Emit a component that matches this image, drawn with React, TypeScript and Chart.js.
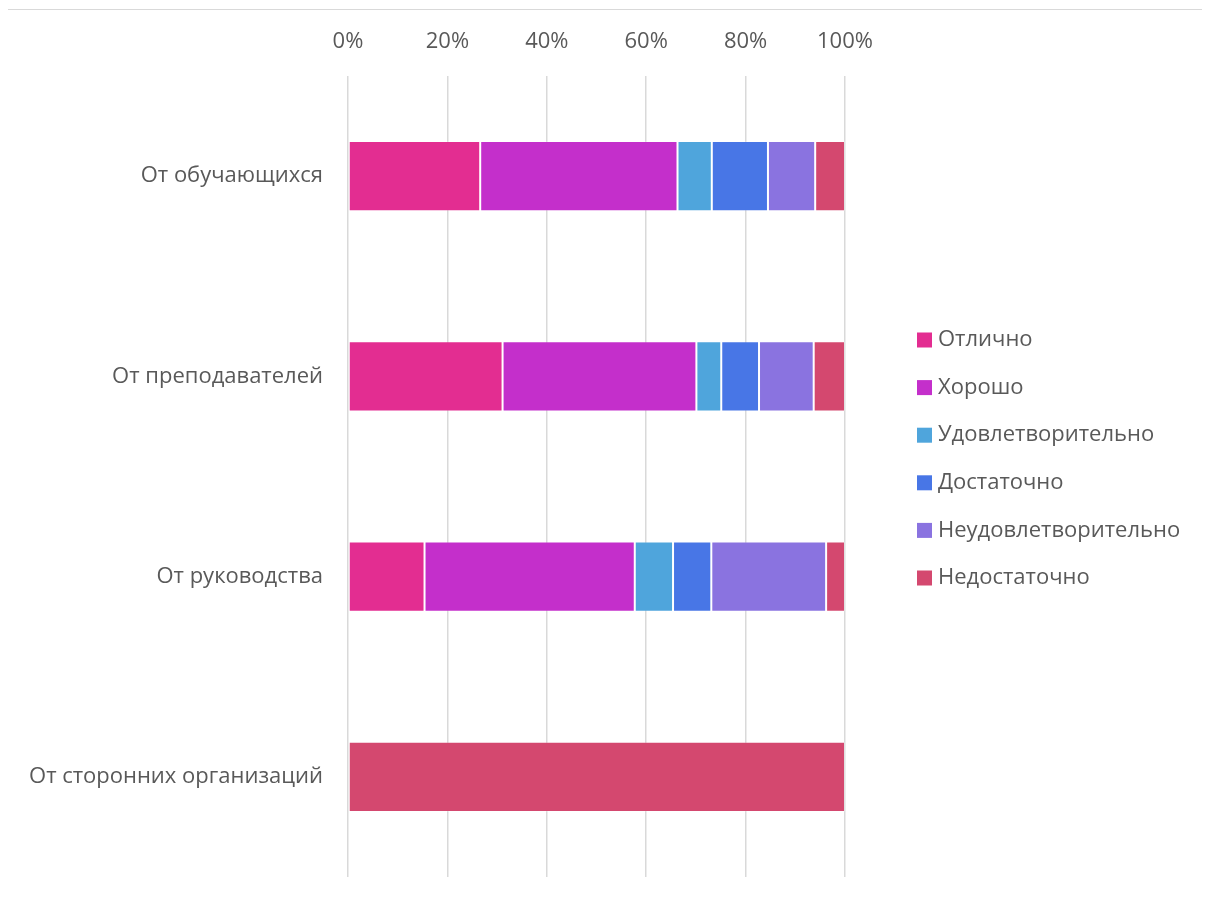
import React, { useEffect, useRef } from "react";
import { Chart, registerables } from "chart.js";

Chart.register(...registerables);

const categories = [
  "От обучающихся",
  "От преподавателей",
  "От руководства",
  "От сторонних организаций",
];

const seriesNames = [
  "Отлично",
  "Хорошо",
  "Удовлетворительно",
  "Достаточно",
  "Неудовлетворительно",
  "Недостаточно",
];

const otlichno = [26.6, 31.1, 15.4, 0];
const khorosho = [39.7, 39.0, 42.3, 0];
const udovl = [6.9, 5.0, 7.7, 0];
const dostatochno = [11.3, 7.6, 7.7, 0];
const neudovl = [9.5, 11.0, 23.1, 0];
const nedostatochno = [6.0, 6.3, 3.8, 100];

const seriesValues = [otlichno, khorosho, udovl, dostatochno, neudovl, nedostatochno];

const seriesColors = ["#E32D91", "#C42FCB", "#4FA5DC", "#4876E6", "#8A73E0", "#D4486F"];

const tickLabelsX = ["0%", "20%", "40%", "60%", "80%", "100%"];

const FONT = "'Open Sans', 'Noto Sans', sans-serif";
const FONT_SIZE = 22;
const TEXT = "#595959";

const CANVAS_W = 1201;
const CANVAS_H = 890;

const sideLegend = {
  id: "sideLegend",
  afterDraw(chart: any) {
    const ctx = chart.ctx;
    const area = chart.chartArea;
    const boxX = area.right + 72;
    const startY = 330;
    const step = 47.6;
    const box = 15;
    ctx.save();
    ctx.font = `${FONT_SIZE}px ${FONT}`;
    ctx.textBaseline = "middle";
    ctx.textAlign = "left";
    chart.data.datasets.forEach((ds: any, i: number) => {
      const cy = startY + i * step;
      ctx.fillStyle = ds.backgroundColor;
      ctx.fillRect(boxX, cy - box / 2, box, box);
      ctx.fillStyle = TEXT;
      ctx.fillText(ds.label, boxX + box + 6, cy);
    });
    ctx.restore();
  },
};

export default function App() {
  const ref = useRef<HTMLCanvasElement | null>(null);

  useEffect(() => {
    if (!ref.current) return;
    const chart = new Chart(ref.current, {
      type: "bar",
      data: {
        labels: categories,
        datasets: seriesNames.map((name, i) => ({
          label: name,
          data: seriesValues[i],
          backgroundColor: seriesColors[i],
          borderColor: "rgba(255,255,255,0.18)",
          borderWidth: 1,
          borderSkipped: false,
          categoryPercentage: 1,
          barPercentage: 0.35,
        })),
      },
      options: {
        indexAxis: "y",
        responsive: false,
        animation: false,
        maintainAspectRatio: false,
        layout: { autoPadding: false, padding: { top: 0, bottom: 23, left: 0, right: 364 } },
        scales: {
          x: {
            position: "top",
            stacked: true,
            min: 0,
            max: 100,
            grid: { color: "#d9d9d9", lineWidth: 1.5, drawTicks: false },
            border: { display: false },
            ticks: {
              stepSize: 20,
              padding: 21,
              color: TEXT,
              font: { family: FONT, size: FONT_SIZE },
              callback: (_v: any, i: number) => tickLabelsX[i],
            },
            afterFit: (s: any) => {
              s.height = 66;
            },
          },
          y: {
            stacked: true,
            grid: { display: false },
            border: { display: false },
            ticks: {
              padding: 17,
              color: TEXT,
              font: { family: FONT, size: FONT_SIZE },
            },
            afterFit: (s: any) => {
              s.width = 340;
              s.paddingTop = 0;
              s.paddingBottom = 0;
            },
          },
        },
        plugins: {
          legend: { display: false },
          tooltip: { enabled: false },
        },
      },
      plugins: [sideLegend],
    });
    return () => chart.destroy();
  }, []);

  return (
    <div
      style={{
        position: "relative",
        left: -1,
        top: 1,
        width: CANVAS_W,
        height: CANVAS_H,
        border: "1px solid #d9d9d9",
        background: "#fff",
      }}
    >
      <canvas
        ref={ref}
        width={CANVAS_W}
        height={CANVAS_H}
        style={{ display: "block", width: CANVAS_W, height: CANVAS_H }}
      />
    </div>
  );
}
